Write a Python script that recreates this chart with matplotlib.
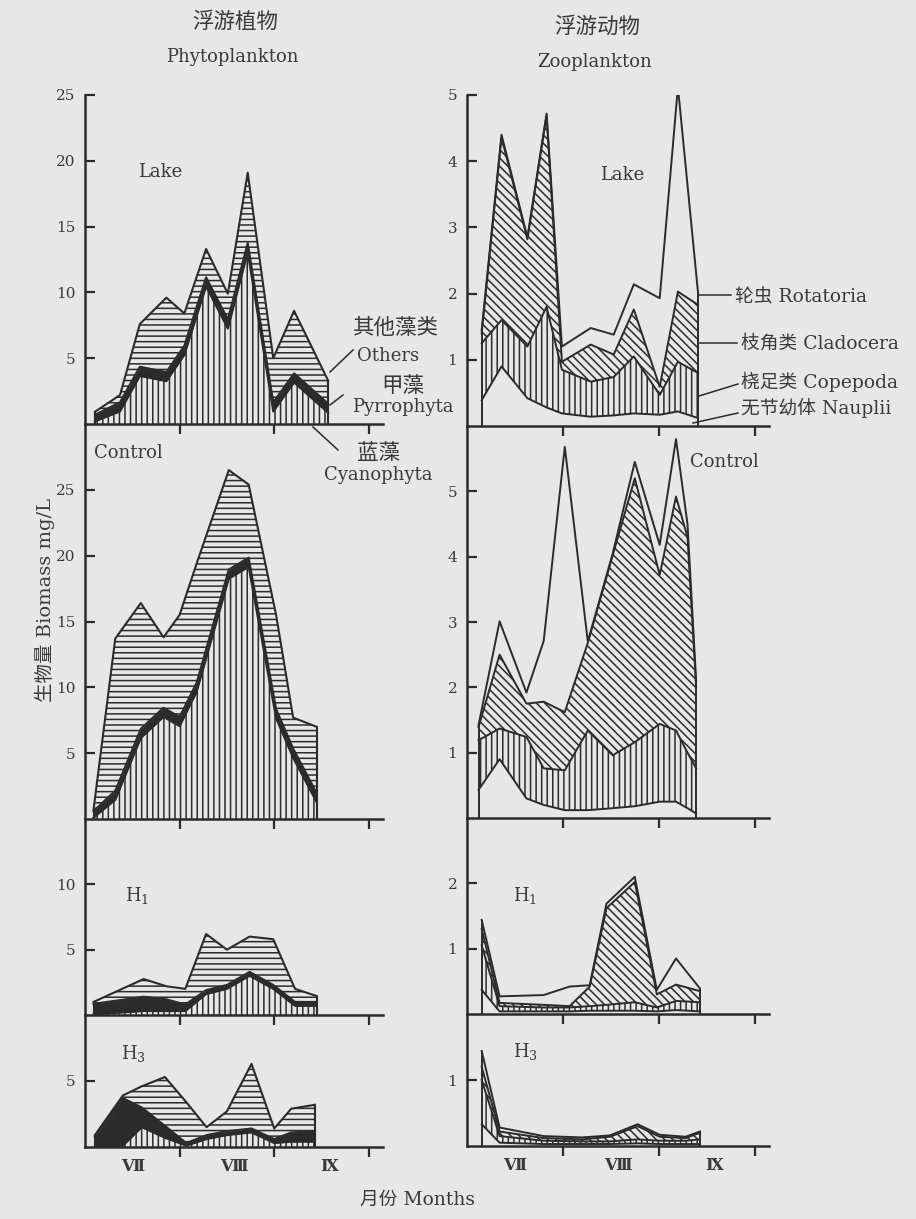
import numpy as np
import matplotlib.pyplot as plt
from matplotlib.lines import Line2D

plt.rcParams['font.family'] = ['DejaVu Serif', 'Noto Sans CJK SC']
plt.rcParams['mathtext.fontset'] = 'dejavuserif'
plt.rcParams['hatch.linewidth'] = 1.1

INK = '#2b2b2b'
TXT = '#3a3a3a'
PAPER = '#e7e7e7'
W, H = 916, 1219

# month axis: 0 = start of July, 1 = August, 2 = September
months = ['Ⅶ', 'Ⅷ', 'Ⅸ']
month_pos = [0.5, 1.57, 2.58]

# phytoplankton biomass (mg/L) per group
phyto_lake_x = [0.105, 0.37, 0.58, 0.86, 1.05, 1.28, 1.51, 1.72, 1.99, 2.21, 2.57]
phyto_lake_cyano = [0.2, 0.95, 3.65, 3.25, 5.25, 10.45, 7.25, 13.05, 0.95, 3.15, 0.85]
phyto_lake_pyrro = [0.5, 0.7, 0.7, 0.7, 0.7, 0.7, 0.7, 0.7, 0.7, 0.7, 0.7]
phyto_lake_others = [0.23, 0.55, 3.25, 5.65, 2.45, 2.15, 1.95, 5.35, 3.35, 4.75, 1.75]

phyto_ctrl_x = [0.09, 0.32, 0.59, 0.83, 1.0, 1.18, 1.52, 1.73, 2.02, 2.2, 2.45]
phyto_ctrl_cyano = [0.1, 1.45, 6.15, 7.75, 7.05, 9.65, 18.25, 19.15, 7.65, 4.65, 1.25]
phyto_ctrl_pyrro = [0.5, 0.7, 0.7, 0.7, 0.7, 0.7, 0.7, 0.7, 0.7, 0.7, 0.7]
phyto_ctrl_others = [0.1, 11.55, 9.55, 5.35, 7.75, 9.05, 7.55, 5.55, 7.15, 2.35, 5.05]

phyto_h1_x = [0.09, 0.62, 0.86, 1.06, 1.28, 1.5, 1.74, 1.99, 2.22, 2.45]
phyto_h1_cyano = [0.05, 0.3, 0.3, 0.3, 1.6, 2.0, 3.0, 2.0, 0.7, 0.7]
phyto_h1_pyrro = [0.8, 1.1, 0.9, 0.5, 0.3, 0.3, 0.3, 0.3, 0.3, 0.3]
phyto_h1_others = [0.15, 1.35, 1.0, 1.2, 4.3, 2.7, 2.7, 3.5, 1.0, 0.45]

phyto_h3_x = [0.105, 0.40, 0.6, 0.845, 1.07, 1.285, 1.5, 1.76, 2.0, 2.18, 2.43]
phyto_h3_cyano = [0.0, 0.1, 1.5, 0.7, 0.1, 0.6, 0.9, 1.1, 0.3, 0.4, 0.4]
phyto_h3_pyrro = [0.8, 3.6, 1.5, 0.9, 0.2, 0.3, 0.3, 0.3, 0.3, 0.7, 0.8]
phyto_h3_others = [0.1, 0.2, 1.6, 3.7, 3.1, 0.6, 1.5, 4.9, 0.8, 1.8, 2.0]

# zooplankton biomass (mg/L) per group
zoo_lake_x = [0.153, 0.36, 0.63, 0.83, 0.99, 1.29, 1.53, 1.74, 2.01, 2.2, 2.41]
zoo_lake_naup = [0.39, 0.9, 0.42, 0.28, 0.19, 0.14, 0.16, 0.19, 0.17, 0.22, 0.12]
zoo_lake_cope = [0.86, 0.7, 0.78, 1.52, 0.66, 0.53, 0.58, 0.86, 0.30, 0.75, 0.68]
zoo_lake_clad = [0.15, 2.76, 1.62, 2.89, 0.12, 0.56, 0.34, 0.71, 0.12, 1.06, 1.03]
zoo_lake_rota = [0.05, 0.04, 0.03, 0.03, 0.23, 0.25, 0.30, 0.38, 1.34, 3.09, 0.18]

zoo_ctrl_x = [0.12, 0.34, 0.62, 0.8, 1.02, 1.26, 1.52, 1.75, 2.01, 2.18, 2.3, 2.39]
zoo_ctrl_naup = [0.43, 0.9, 0.3, 0.2, 0.12, 0.12, 0.15, 0.18, 0.25, 0.25, 0.15, 0.07]
zoo_ctrl_cope = [0.76, 0.47, 0.94, 0.56, 0.61, 1.22, 0.81, 0.98, 1.19, 1.09, 0.85, 0.69]
zoo_ctrl_clad = [0.2, 1.13, 0.51, 1.02, 0.89, 1.34, 3.06, 4.04, 2.28, 3.58, 3.3, 1.24]
zoo_ctrl_rota = [0.03, 0.51, 0.17, 0.93, 4.06, 0.02, 0.03, 0.25, 0.46, 0.88, 0.2, 0.1]

zoo_h1_x = [0.153, 0.34, 0.8, 1.07, 1.28, 1.455, 1.75, 1.98, 2.18, 2.43]
zoo_h1_naup = [0.37, 0.04, 0.04, 0.04, 0.05, 0.05, 0.05, 0.04, 0.06, 0.04]
zoo_h1_cope = [0.68, 0.08, 0.06, 0.06, 0.07, 0.09, 0.13, 0.06, 0.14, 0.14]
zoo_h1_clad = [0.25, 0.05, 0.04, 0.02, 0.30, 1.48, 1.84, 0.20, 0.25, 0.17]
zoo_h1_rota = [0.14, 0.10, 0.15, 0.30, 0.02, 0.07, 0.08, 0.07, 0.40, 0.04]

zoo_h3_x = [0.153, 0.34, 0.8, 1.2, 1.49, 1.78, 2.01, 2.28, 2.43]
zoo_h3_naup = [0.33, 0.05, 0.03, 0.03, 0.03, 0.04, 0.03, 0.03, 0.03]
zoo_h3_cope = [0.67, 0.10, 0.05, 0.04, 0.04, 0.06, 0.05, 0.05, 0.07]
zoo_h3_clad = [0.20, 0.07, 0.04, 0.03, 0.07, 0.20, 0.06, 0.04, 0.10]
zoo_h3_rota = [0.24, 0.06, 0.03, 0.03, 0.02, 0.03, 0.03, 0.02, 0.02]

# fill style per layer, bottom to top: (hatch, facecolor)
phyto_styles = [('|||', 'none'), (None, INK), ('---', 'none')]
zoo_styles = [(None, 'none'), ('|||', 'none'), ('\\\\\\\\', 'none'), (None, 'none')]


def draw_stack(ax, x, layers, styles, lw=1.5):
    x = np.asarray(x)
    base = np.zeros(len(x))
    for vals, (hatch, face) in zip(layers, styles):
        top = base + np.asarray(vals)
        ax.fill_between(x, base, top, facecolor=face, hatch=hatch,
                        edgecolor=INK, linewidth=0)
        ax.plot(x, top, color=INK, lw=lw)
        base = top
    ax.vlines([x[0], x[-1]], 0, [base[0], base[-1]], color=INK, lw=lw)


def px_axes(fig, x0, width, top, bottom):
    return fig.add_axes([x0 / W, 1 - bottom / H, width / W, (bottom - top) / H])


def setup(ax, ymax, yticks, months_row=False):
    ax.set_xlim(0, 3.15)
    ax.set_ylim(0, ymax)
    ax.set_facecolor('none')
    ax.spines['top'].set_visible(False)
    ax.spines['right'].set_visible(False)
    for s in ('left', 'bottom'):
        ax.spines[s].set_linewidth(1.8)
        ax.spines[s].set_color(INK)
    ax.set_xticks([1, 2, 3])
    ax.set_xticklabels([])
    ax.tick_params(axis='x', which='major', direction='out', length=7,
                   width=1.6, color=INK)
    ax.set_yticks(yticks)
    ax.tick_params(axis='y', direction='in', length=7, width=1.6, color=INK,
                   labelsize=11, pad=7, labelcolor=TXT)
    if months_row:
        ax.set_xticks(month_pos, months, minor=True)
        ax.tick_params(axis='x', which='minor', length=0, pad=8,
                       labelsize=12, labelcolor=TXT)
        for lab in ax.get_xticklabels(minor=True):
            lab.set_fontweight('bold')


fig = plt.figure(figsize=(W / 100, H / 100), dpi=100, facecolor=PAPER)

# left column: phytoplankton
rows_left = [(95, 424, 25, [5, 10, 15, 20, 25]),
             (424, 819, 30, [5, 10, 15, 20, 25]),
             (819, 1015, 15, [5, 10]),
             (1015, 1147, 10, [5])]
phyto = [(phyto_lake_x, [phyto_lake_cyano, phyto_lake_pyrro, phyto_lake_others]),
         (phyto_ctrl_x, [phyto_ctrl_cyano, phyto_ctrl_pyrro, phyto_ctrl_others]),
         (phyto_h1_x, [phyto_h1_cyano, phyto_h1_pyrro, phyto_h1_others]),
         (phyto_h3_x, [phyto_h3_cyano, phyto_h3_pyrro, phyto_h3_others])]
for i, ((top, bot, ymax, yt), (x, layers)) in enumerate(zip(rows_left, phyto)):
    ax = px_axes(fig, 85, 298, top, bot)
    setup(ax, ymax, yt, months_row=(i == 3))
    draw_stack(ax, x, layers, phyto_styles)

# right column: zooplankton
rows_right = [(95, 426, 5, [1, 2, 3, 4, 5]),
              (426, 818, 6, [1, 2, 3, 4, 5]),
              (818, 1014, 3, [1, 2]),
              (1014, 1146, 2, [1])]
zoo = [(zoo_lake_x, [zoo_lake_naup, zoo_lake_cope, zoo_lake_clad, zoo_lake_rota]),
       (zoo_ctrl_x, [zoo_ctrl_naup, zoo_ctrl_cope, zoo_ctrl_clad, zoo_ctrl_rota]),
       (zoo_h1_x, [zoo_h1_naup, zoo_h1_cope, zoo_h1_clad, zoo_h1_rota]),
       (zoo_h3_x, [zoo_h3_naup, zoo_h3_cope, zoo_h3_clad, zoo_h3_rota])]
for i, ((top, bot, ymax, yt), (x, layers)) in enumerate(zip(rows_right, zoo)):
    ax = px_axes(fig, 467, 302, top, bot)
    setup(ax, ymax, yt, months_row=(i == 3))
    draw_stack(ax, x, layers, zoo_styles, lw=1.4)


def ftext(x, y, s, size=13, **kw):
    kw.setdefault('ha', 'center')
    fig.text(x / W, 1 - y / H, s, va='center', color=TXT, fontsize=size, **kw)


def leader(x1, y1, x2, y2):
    fig.add_artist(Line2D([x1 / W, x2 / W], [1 - y1 / H, 1 - y2 / H],
                          color=INK, lw=1.1))


# column titles
ftext(235, 22, '浮游植物', size=15.5)
ftext(232, 57, 'Phytoplankton')
ftext(597, 27, '浮游动物', size=15.5)
ftext(595, 62, 'Zooplankton')

# panel names
ftext(160, 172, 'Lake')
ftext(622, 175, 'Lake')
ftext(128, 453, 'Control')
ftext(724, 462, 'Control')
ftext(137, 895, r'H$_1$')
ftext(133, 1053, r'H$_3$')
ftext(525, 895, r'H$_1$')
ftext(525, 1052, r'H$_3$')

# phytoplankton group labels
ftext(395, 328, '其他藻类', size=15.5)
ftext(388, 356, 'Others')
ftext(403, 386, '甲藻', size=15.5)
ftext(403, 407, 'Pyrrophyta')
ftext(378, 453, '蓝藻', size=15.5)
ftext(378, 475, 'Cyanophyta')
leader(353, 350, 330, 372)
leader(343, 395, 330, 405)
leader(313, 427, 338, 450)

# zooplankton group labels
ftext(735, 297, '轮虫 Rotatoria', size=13.5, ha='left')
ftext(741, 344, '枝角类 Cladocera', size=13.5, ha='left')
ftext(741, 382, '桡足类 Copepoda', size=13.5, ha='left')
ftext(741, 408, '无节幼体 Nauplii', size=13.5, ha='left')
leader(699, 295, 731, 295)
leader(700, 343, 737, 343)
leader(699, 396, 738, 384)
leader(693, 423, 738, 413)

# axis titles
ftext(45, 600, '生物量 Biomass mg/L', size=14, rotation=90)
ftext(418, 1200, '月份 Months', size=13.5)

fig.savefig('out.png', dpi=100, facecolor=PAPER)
